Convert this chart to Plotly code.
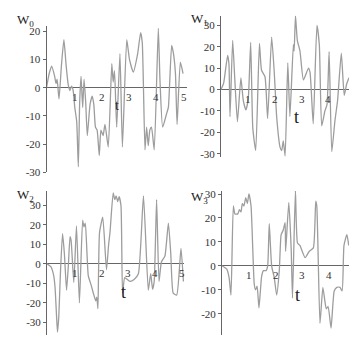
import plotly.graph_objects as go

# ---- data ----
t0 = [0, 0.1, 0.19, 0.3, 0.35, 0.39, 0.46, 0.55, 0.64, 0.72, 0.8, 0.86, 0.92, 0.98, 1.04, 1.11, 1.17,
      1.22, 1.27, 1.33, 1.38, 1.44, 1.5, 1.6, 1.68, 1.74, 1.8, 1.86, 1.94, 2.0, 2.08, 2.15, 2.27, 2.4,
      2.45, 2.5, 2.58, 2.7, 2.79, 2.95, 3.05, 3.19, 3.35, 3.46, 3.52, 3.62, 3.68, 3.74, 3.8, 3.86, 3.96,
      4.11, 4.17, 4.27, 4.42, 4.48, 4.6, 4.66, 4.74, 4.8, 4.92, 5.02]
w0 = [0, 5, 7.6, 4, 1.5, 3, -4, 8, 17, 8, 1, -1, 0.5, -1, -7, -12, -28,
      -5, 4, -7, 3, -5, -17, -6, -3, -6, -14, -15, -24, -15, -17, -13, -21, 8.5,
      2, 6, -14, 12, -21, 17, 10, 5.5, 12, 19.5, 16, -22, -14, -20.5, -15, -14, -22,
      21, 3, -14, -9, -7, 15, 12.5, 5, -13, 9, 5]

t1 = [0, 0.1, 0.25, 0.3, 0.34, 0.44, 0.52, 0.62, 0.75, 0.84, 0.94, 1.03, 1.12, 1.2, 1.31, 1.45,
      1.53, 1.66, 1.76, 1.91, 2.01, 2.1, 2.23, 2.29, 2.35, 2.42, 2.52, 2.6, 2.73, 2.76, 2.81, 2.88,
      2.98, 3.11, 3.3, 3.36, 3.48, 3.62, 3.71, 3.8, 3.92, 4.0, 4.08, 4.18, 4.3, 4.4, 4.54, 4.65,
      4.74, 4.83]
w1 = [0, 3, 16, 12, -12.6, 23, 5, -15, 5.5, -5, -9.5, -4, 22, -18, -28.5, 21.5,
      9, 6, -13.5, 24.5, 8, -12.6, -27, -28.5, -24, -31, 12.5, -12.6, 21, 18, 34.5, 23,
      18, 4.5, 10, 8, -16, 30, 21, -17, -10, -7, 17.7, -29, -14.5, -5, 17, -2.7,
      2.5, 5.5]

t2 = [0, 0.15, 0.25, 0.3, 0.35, 0.39, 0.44, 0.5, 0.58, 0.65, 0.73, 0.8, 0.86, 0.9, 1.0, 1.1, 1.21,
      1.33, 1.38, 1.43, 1.54, 1.65, 1.75, 1.82, 1.86, 1.9, 1.96, 2.08, 2.22, 2.3, 2.35, 2.47, 2.53,
      2.58, 2.64, 2.69, 2.76, 2.82, 2.9, 3.0, 3.1, 3.25, 3.41, 3.6, 3.78, 3.87, 3.94, 4.0, 4.09,
      4.18, 4.27, 4.4, 4.53, 4.62, 4.71, 4.84, 5.0, 5.09]
w2 = [0, -1.5, -6, -12, -25, -35, -27, -5, 15.5, 5, -13.5, 0, 14, 12, -9.5, 19.5, -20,
      22.5, 19, 21, -6, -11, -16, -19, -17, -23, 16, 24, -3, 10, 16, 36.5, 33,
      35, 32, 34.5, 30, -15, -7, -8, -9, -8, -5, 35, -13.5, -5, -13, -9, 33,
      -9, 1, 4, 21, 5, -15, -16, 8, -9]

t3 = [0, 0.18, 0.27, 0.34, 0.43, 0.49, 0.6, 0.66, 0.72, 0.77, 0.83, 0.9, 0.96, 1.02, 1.1, 1.22,
      1.27, 1.33, 1.4, 1.5, 1.57, 1.67, 1.73, 1.79, 1.88, 1.98, 2.07, 2.17, 2.24, 2.32, 2.39, 2.41,
      2.53, 2.62, 2.67, 2.78, 2.86, 2.95, 3.15, 3.3, 3.46, 3.55, 3.59, 3.71, 3.82, 3.9, 3.95, 4.02,
      4.13, 4.25, 4.35, 4.47, 4.55, 4.62, 4.73, 4.8]
w3 = [0, -1.4, -5, -12.2, 25, 21.7, 21.7, 23.5, 22.5, 26, 25, 28.5, 26, 30, 25, -7.5,
      -10, -8.5, -17.6, -4.5, -2, -2, 0, 17.6, 0, -5, -12.2, -2, 13, 15, 18, 6,
      26.5, 7, -13.5, 31.5, 9.5, 8.5, 3.4, 6, 7.5, 27, 25, -24, -9, -15, -18, -17,
      -26, -10.5, -9, -9, -10.5, 8.5, 13, 8.5]

names = ["W<sub>0</sub>", "W<sub>1</sub>", "W<sub>2</sub>", "W<sub>3</sub>"]
xticks = [[1, 2, 3, 4, 5], [1, 2, 3, 4], [1, 2, 3, 4, 5], [1, 2, 3, 4]]
yticks = [[-30, -20, -10, 0, 10, 20], [-30, -20, -10, 0, 10, 20, 30],
          [-30, -20, -10, 0, 10, 20, 30], [-20, -10, 0, 10, 20, 30]]

W, H = 349, 341
# panel geometry in pixels: (x_left, x_right), (y_top, y_bottom), ranges
panels = [
    dict(px=(46.5, 186.6), py=(24, 174), xr=(0, 5.15), yr=(-30, 21.7), tpos=(2.58, -6.2), tsize=14, title=(15, 7)),
    dict(px=(221, 349), py=(13, 158), xr=(0, 4.83), yr=(-31.4, 34.5), tpos=(2.85, -12.6), tsize=18, title=(189, 6)),
    dict(px=(47, 184.2), py=(193, 341), xr=(0, 5.12), yr=(-36.5, 37.5), tpos=(2.85, -14.3), tsize=18, title=(15, 187)),
    dict(px=(222, 349), py=(193, 341), xr=(0, 4.81), yr=(-28.9, 31.3), tpos=(2.87, -12.2), tsize=18, title=(189, 189)),
]
series = [(t0, w0), (t1, w1), (t2, w2), (t3, w3)]

SERIF = "Liberation Serif"
fig = go.Figure()
layout = dict(width=W, height=H, margin=dict(l=0, r=0, t=0, b=0),
              paper_bgcolor="white", plot_bgcolor="white", showlegend=False)
annotations = []
for i, (p, (tt, ww)) in enumerate(zip(panels, series)):
    k = "" if i == 0 else str(i + 1)
    xa, ya = "x" + k, "y" + k
    fig.add_trace(go.Scatter(x=tt, y=ww, mode="lines", xaxis=xa, yaxis=ya,
                             line=dict(color="#9d9d9d", width=1.3, shape="spline", smoothing=0.5),
                             hoverinfo="skip"))
    layout["xaxis" + k] = dict(domain=[p["px"][0] / W, p["px"][1] / W], range=list(p["xr"]),
                               visible=False, anchor=ya)
    layout["yaxis" + k] = dict(domain=[1 - p["py"][1] / H, 1 - p["py"][0] / H], range=list(p["yr"]),
                               anchor=xa, showgrid=False, zeroline=True, zerolinecolor="#666",
                               zerolinewidth=1, showline=True, linecolor="#666", linewidth=1,
                               ticks="outside", ticklen=3, tickcolor="#666",
                               tickvals=yticks[i], ticktext=[str(v) for v in yticks[i]],
                               tickfont=dict(family=SERIF, size=11, color="#333"))
    for v in xticks[i]:
        annotations.append(dict(x=v, y=0, xref=xa, yref=ya, text=str(v), showarrow=False,
                                yshift=-9, xshift=1, font=dict(family=SERIF, size=11, color="#333")))
    annotations.append(dict(x=p["tpos"][0], y=p["tpos"][1], xref=xa, yref=ya, text="t",
                            showarrow=False, font=dict(family=SERIF, size=p["tsize"], color="#222")))
    annotations.append(dict(x=p["title"][0] / W, y=1 - p["title"][1] / H, xref="paper", yref="paper",
                            xanchor="left", yanchor="top", text=names[i], showarrow=False,
                            font=dict(family=SERIF, size=13, color="#222")))
layout["annotations"] = annotations
fig.update_layout(**layout)
fig.write_html("out.html", config={"displayModeBar": False, "staticPlot": True},
               post_script="document.body.style.margin='0';document.body.style.overflow='hidden';")
